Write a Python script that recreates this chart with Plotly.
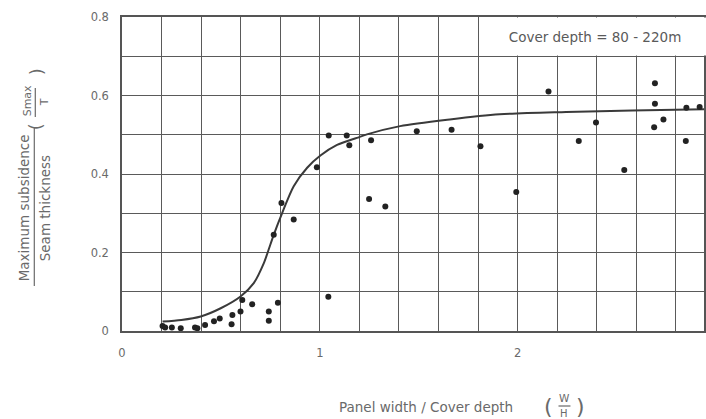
import plotly.graph_objects as go

# Observed points (W/H, Smax/T)
pts_x = [0.205, 0.218, 0.252, 0.297, 0.369, 0.381, 0.420, 0.465, 0.494, 0.554,
         0.558, 0.599, 0.608, 0.658, 0.742, 0.742, 0.788, 1.043, 0.767, 0.806,
         0.868, 0.985, 1.045, 1.136, 1.149, 1.259, 1.249, 1.331, 1.490, 1.666,
         1.812, 1.993, 2.156, 2.309, 2.396, 2.539, 2.694, 2.694, 2.690, 2.737,
         2.850, 2.853, 2.920]
pts_y = [0.013, 0.009, 0.009, 0.007, 0.009, 0.007, 0.015, 0.025, 0.032, 0.017,
         0.041, 0.050, 0.079, 0.068, 0.050, 0.026, 0.072, 0.087, 0.245, 0.326,
         0.284, 0.417, 0.498, 0.498, 0.473, 0.486, 0.336, 0.317, 0.509, 0.513,
         0.471, 0.354, 0.610, 0.484, 0.531, 0.410, 0.631, 0.579, 0.519, 0.539,
         0.484, 0.569, 0.571]

# Fitted curve
curve_x = [0.205, 0.300, 0.398, 0.499, 0.599, 0.666, 0.717, 0.741, 0.767, 0.810, 0.868,
           0.936, 1.003, 1.087, 1.187, 1.238, 1.406, 1.657, 1.909, 2.245, 2.579, 2.947]
curve_y = [0.024, 0.028, 0.037, 0.058, 0.088, 0.122, 0.173, 0.207, 0.245, 0.301, 0.369,
           0.416, 0.447, 0.474, 0.492, 0.501, 0.522, 0.539, 0.552, 0.558, 0.562, 0.565]

x_grid = [round(0.2 * i, 1) for i in range(15)]
x_text = ["0" if v == 0 else ("1" if v == 1 else ("2" if v == 2 else "")) for v in x_grid]
y_grid = [round(0.1 * i, 1) for i in range(9)]
y_text = ["0", "", "0.2", "", "0.4", "", "0.6", "", "0.8"]

FONT = "DejaVu Sans, Liberation Sans, Arial, sans-serif"
GRID = "#5a5a5a"
TXT = "#6a6a6a"

# plot-area geometry in pixels (for placing the axis-title decorations)
L, T, PW, PH = 122, 17, 584, 314


def px(x):
    return (x - L) / PW


def py(y):
    return (T + PH - y) / PH


fig = go.Figure()
fig.add_trace(go.Scatter(x=curve_x, y=curve_y, mode="lines",
                         line=dict(color="#3a3a3a", width=2, shape="spline", smoothing=0.8),
                         hoverinfo="skip", showlegend=False))
fig.add_trace(go.Scatter(x=pts_x, y=pts_y, mode="markers",
                         marker=dict(color="#222222", size=6),
                         showlegend=False, cliponaxis=False))

fig.update_layout(
    width=706, height=419,
    margin=dict(l=L, r=0, t=T, b=419 - T - PH),
    paper_bgcolor="white", plot_bgcolor="white",
    font=dict(family=FONT, size=11, color=TXT),
    xaxis=dict(range=[0, 2.942], tickmode="array", tickvals=x_grid, ticktext=x_text,
               showgrid=True, gridcolor=GRID, gridwidth=1.3, zeroline=False,
               showline=True, linecolor="#555555", linewidth=1.5, mirror=True,
               ticks="", ticklabelstandoff=10, tickfont=dict(size=11.5, color=TXT)),
    yaxis=dict(range=[0, 0.8], tickmode="array", tickvals=y_grid, ticktext=y_text,
               showgrid=True, gridcolor=GRID, gridwidth=1.3, zeroline=False,
               showline=True, linecolor="#555555", linewidth=1.5, mirror=True,
               ticks="", ticklabelstandoff=9, tickfont=dict(size=11.5, color=TXT)),
)

# Box annotation
fig.add_annotation(x=2.39, y=0.75, xref="x", yref="y",
                   text="Cover depth = 80 - 220m", showarrow=False,
                   bgcolor="white", width=224, height=35, valign="middle",
                   font=dict(size=13.5, color="#5a5a5a", family=FONT))


def ptext(x, y, text, size=12, angle=0):
    fig.add_annotation(x=px(x), y=py(y), xref="paper", yref="paper", text=text,
                       showarrow=False, textangle=angle, xanchor="center", yanchor="middle",
                       font=dict(size=size, color=TXT, family=FONT))


def pline(x0, y0, x1, y1):
    fig.add_shape(type="line", xref="paper", yref="paper",
                  x0=px(x0), y0=py(y0), x1=px(x1), y1=py(y1),
                  line=dict(color=TXT, width=1.2))


# Y axis title as a fraction
ptext(24, 208, "Maximum subsidence", 13.5, -90)
ptext(45, 208, "Seam thickness", 13.5, -90)
pline(34, 128, 34, 286)
ptext(27, 101, "Smax", 11, -90)
ptext(44, 102, "T", 11, -90)
pline(35, 88, 35, 117)
ptext(35, 127, "(", 18, -90)
ptext(37, 72, ")", 18, -90)

# X axis title
ptext(427, 407, "Panel width / Cover depth", 13.5)
ptext(566, 398, "W", 10.5)
ptext(566, 413, "H", 10)
pline(560, 406, 572, 406)
ptext(550, 406, "(", 22)
ptext(582, 406, ")", 22)

fig.write_html("out.html")
